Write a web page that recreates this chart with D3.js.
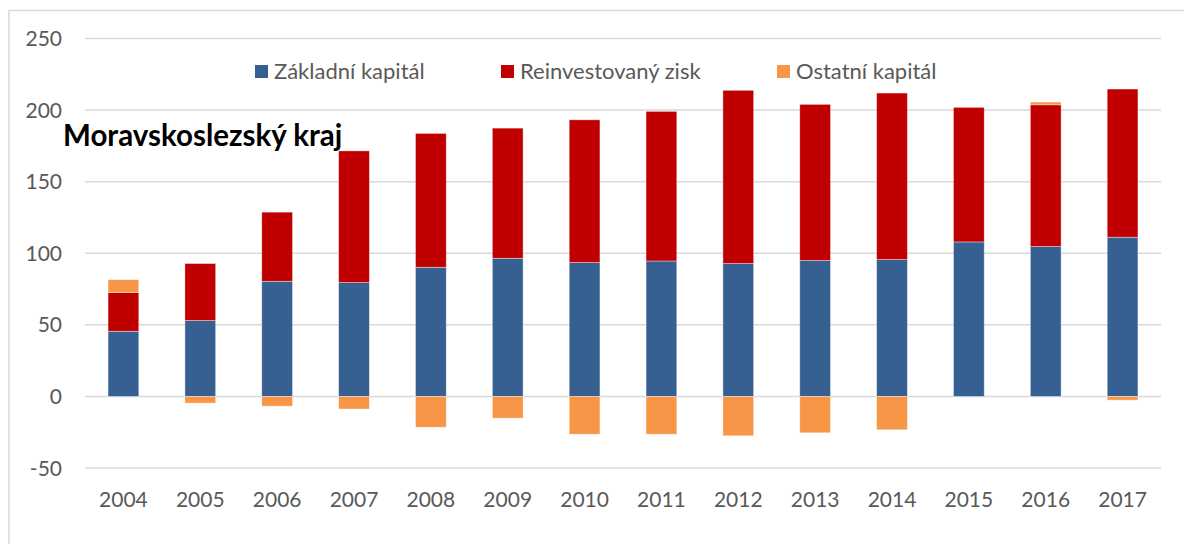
<!DOCTYPE html>
<html lang="cs">

<head>
    <meta charset="UTF-8">
    <title>Moravskoslezský kraj</title>
    <style>
        body {
            margin: 0;
            padding: 0;
            background: #fff;
        }

        svg {
            display: block;
            font-family: Lato, "Open Sans", sans-serif;
        }
    </style>
</head>

<body>

    <svg width="1184" height="544"></svg>

    <script src="https://d3js.org/d3.v7.min.js"></script>
    <script>
        // Data
        const years = ["2004", "2005", "2006", "2007", "2008", "2009", "2010",
            "2011", "2012", "2013", "2014", "2015", "2016", "2017"];
        const zakladni = [45.5, 53, 80.4, 79.5, 90.2, 96.5, 93.5, 94.6, 92.8, 94.9, 95.6, 107.9, 104.7, 111.2];
        const reinvest = [27, 39.8, 48.3, 92, 93.5, 90.9, 99.7, 104.5, 121, 109.1, 116.3, 94, 99, 103.5];
        const ostatni = [9, -4.7, -6.8, -8.8, -21.5, -15.2, -26.4, -26.4, -27.5, -25.4, -23.3, 0, 1.9, -2.6];
        const yTicks = [-50, 0, 50, 100, 150, 200, 250];
        const seriesNames = ["Základní kapitál", "Reinvestovaný zisk", "Ostatní kapitál"];
        const colors = ["#376092", "#C00000", "#F79646"];

        const svg = d3.select("svg");

        // chart frame (only top and left edges visible)
        svg.append("line").attr("x1", 9).attr("x2", 1184).attr("y1", 10.5).attr("y2", 10.5)
            .attr("stroke", "#d9d9d9").attr("stroke-width", 1.5);
        svg.append("line").attr("x1", 9).attr("x2", 9).attr("y1", 10).attr("y2", 544)
            .attr("stroke", "#d9d9d9").attr("stroke-width", 1.5);

        const x = d3.scaleBand().domain(years).range([85, 1161]).paddingInner(0.6).paddingOuter(0.3);
        const y = d3.scaleLinear().domain([-50, 250]).range([468, 38.5]);

        // gridlines
        svg.append("g").selectAll("line").data(yTicks).join("line")
            .attr("x1", 85).attr("x2", 1161)
            .attr("y1", d => y(d)).attr("y2", d => y(d))
            .attr("stroke", "#d9d9d9").attr("stroke-width", 1.5);

        // y labels
        svg.append("g").selectAll("text").data(yTicks).join("text")
            .attr("x", 62).attr("y", d => y(d) + 7.5)
            .attr("text-anchor", "end")
            .attr("font-size", 21).attr("fill", "#595959")
            .text(d => d);

        // x labels
        svg.append("g").selectAll("text").data(years).join("text")
            .attr("x", d => x(d) + x.bandwidth() / 2).attr("y", 507)
            .attr("text-anchor", "middle")
            .attr("font-size", 21).attr("fill", "#595959")
            .text(d => d);

        // stack: positives go up, negatives go down (like Excel)
        const segs = [];
        years.forEach((yr, i) => {
            let pos = 0, neg = 0;
            [zakladni[i], reinvest[i], ostatni[i]].forEach((v, k) => {
                if (v >= 0) {
                    segs.push({ yr, k, y0: pos, y1: pos + v });
                    pos += v;
                } else {
                    segs.push({ yr, k, y0: neg + v, y1: neg });
                    neg += v;
                }
            });
        });

        svg.append("g").selectAll("rect").data(segs.filter(d => d.y1 - d.y0 > 0)).join("rect")
            .attr("x", d => x(d.yr))
            .attr("width", x.bandwidth())
            .attr("y", d => y(d.y1))
            .attr("height", d => y(d.y0) - y(d.y1))
            .attr("fill", d => colors[d.k])
            .attr("stroke", "#fff").attr("stroke-opacity", 0.5).attr("stroke-width", 0.75);

        // legend
        const legendX = [255, 501, 777];
        const leg = svg.append("g").selectAll("g").data(seriesNames).join("g")
            .attr("transform", (d, i) => `translate(${legendX[i]},65)`);
        leg.append("rect").attr("width", 13).attr("height", 13).attr("fill", (d, i) => colors[i]);
        leg.append("text").attr("x", 19).attr("y", 14)
            .attr("font-size", 22).attr("fill", "#595959")
            .text(d => d);

        // title
        svg.append("text").attr("x", 63).attr("y", 146)
            .attr("font-size", 29.5).attr("font-weight", "bold").attr("fill", "#000")
            .text("Moravskoslezský kraj");
    </script>

</body>

</html>
